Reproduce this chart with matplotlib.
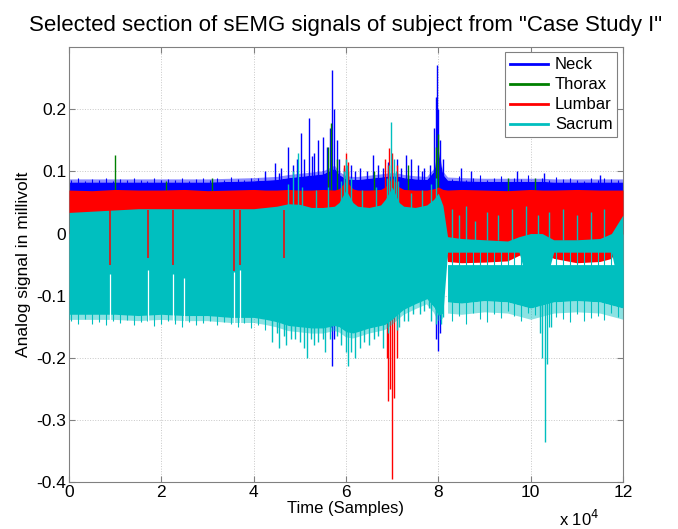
import numpy as np
import matplotlib
matplotlib.use("Agg")
import matplotlib.pyplot as plt
from matplotlib.lines import Line2D

plt.rcParams['font.family'] = ['Liberation Sans', 'DejaVu Sans']

# envelope knots (sample index)
x_knots = [0, 5000, 10000, 15000, 20000, 25000, 30000, 35000, 40000, 42500,
           45000, 47500, 50000, 52500, 55000, 57500, 58500, 60000, 61500, 62500,
           65000, 67500, 68500, 70000, 71500, 72500, 75000, 77500, 79000, 80000,
           81000, 82000, 85000, 90000, 95000, 97500, 100000, 102500, 105000, 110000,
           115000, 117500, 120000]

neck_hi = [0.083, 0.083, 0.083, 0.083, 0.083, 0.083, 0.083, 0.084, 0.085, 0.086,
           0.087, 0.090, 0.092, 0.094, 0.096, 0.105, 0.095, 0.088, 0.087, 0.087,
           0.089, 0.091, 0.092, 0.093, 0.092, 0.090, 0.088, 0.087, 0.100, 0.130,
           0.095, 0.086, 0.085, 0.084, 0.084, 0.084, 0.084, 0.084, 0.083, 0.083,
           0.083, 0.083, 0.083]
thorax_hi = [0.066] * 43
lumbar_hi = [0.070, 0.069, 0.071, 0.070, 0.070, 0.071, 0.069, 0.070, 0.071, 0.070,
             0.070, 0.071, 0.070, 0.070, 0.071, 0.070, 0.072, 0.085, 0.072, 0.070,
             0.070, 0.071, 0.075, 0.090, 0.075, 0.071, 0.070, 0.070, 0.072, 0.075,
             0.071, 0.070, 0.071, 0.070, 0.069, 0.070, 0.071, 0.070, 0.070, 0.071,
             0.070, 0.070, 0.070]
lumbar_lo = [0.0] * 31 + [-0.045, -0.047, -0.046, -0.044, -0.035, -0.030, -0.030,
                          -0.040, -0.047, -0.045, -0.040, 0.0]
sacrum_hi = [0.034, 0.036, 0.038, 0.040, 0.040, 0.040, 0.040, 0.040, 0.040, 0.042,
             0.044, 0.048, 0.047, 0.042, 0.042, 0.044, 0.050, 0.070, 0.050, 0.044,
             0.042, 0.046, 0.055, 0.075, 0.050, 0.044, 0.042, 0.046, 0.055, 0.065,
             0.045, -0.005, -0.008, -0.010, -0.012, -0.005, 0.000, 0.000, -0.010, -0.010,
             -0.008, 0.000, 0.030]
sacrum_lo = [-0.130, -0.130, -0.130, -0.132, -0.130, -0.132, -0.132, -0.135, -0.135, -0.138,
             -0.142, -0.148, -0.150, -0.152, -0.152, -0.148, -0.150, -0.158, -0.160, -0.158,
             -0.152, -0.148, -0.146, -0.138, -0.128, -0.122, -0.113, -0.105, -0.118, -0.132,
             -0.128, -0.030, -0.030, -0.030, -0.030, -0.030, -0.100, -0.100, -0.030, -0.030,
             -0.030, -0.030, -0.120]

# dense lower "forest" of the sacrum trace after sample 82000
forest_x = [82000, 85000, 90000, 95000, 100000, 105000, 110000, 115000, 120000]
forest_hi = [-0.050] * 9
forest_lo = [-0.110, -0.112, -0.108, -0.110, -0.120, -0.110, -0.108, -0.110, -0.120]

# ragged edges, one value every 1500 samples
edge_left_x = np.arange(500, 44000, 1500)
edge_right_x = np.arange(83000, 120000, 1500)
neck_edge_left = [0.086, 0.089, 0.085, 0.088, 0.087, 0.090, 0.085, 0.088, 0.086, 0.089,
                  0.087, 0.085, 0.090, 0.086, 0.088, 0.087, 0.089, 0.085, 0.088, 0.090,
                  0.086, 0.089, 0.087, 0.091, 0.088, 0.086, 0.090, 0.089, 0.092]
neck_edge_right = [0.088, 0.092, 0.086, 0.090, 0.095, 0.087, 0.089, 0.093, 0.086, 0.090,
                   0.088, 0.094, 0.087, 0.089, 0.086, 0.091, 0.088, 0.090, 0.087, 0.085,
                   0.089, 0.086, 0.090, 0.088, 0.087]
sacrum_edge_left = [-0.140, -0.145, -0.138, -0.146, -0.142, -0.148, -0.140, -0.144, -0.139, -0.147,
                    -0.143, -0.141, -0.149, -0.145, -0.140, -0.146, -0.150, -0.142, -0.147, -0.144,
                    -0.141, -0.148, -0.143, -0.146, -0.150, -0.144, -0.152, -0.147, -0.155]
sacrum_edge_right = [-0.140, -0.132, -0.145, -0.128, -0.138, -0.142, -0.130, -0.136, -0.125, -0.133,
                     -0.140, -0.128, -0.131, -0.160, -0.150, -0.135, -0.138, -0.142, -0.130, -0.140,
                     -0.136, -0.132, -0.139, -0.128, -0.134]

# individual spikes (sample, value)
neck_up = [(42500, 0.100), (44600, 0.114), (45500, 0.098), (46000, 0.105), (47400, 0.140),
           (48500, 0.110), (49300, 0.120), (50200, 0.162), (51000, 0.120), (52000, 0.186),
           (52600, 0.125), (53000, 0.130), (54000, 0.150), (55000, 0.156), (55800, 0.140),
           (56500, 0.170), (57000, 0.263), (57400, 0.200), (58000, 0.150), (58500, 0.120),
           (59500, 0.105), (61000, 0.110), (62000, 0.100), (63000, 0.105), (64500, 0.100),
           (65800, 0.127), (67000, 0.110), (68000, 0.105), (69000, 0.115), (71000, 0.120),
           (72000, 0.105), (73000, 0.127), (74000, 0.120), (75500, 0.110), (76500, 0.100),
           (77000, 0.105), (78300, 0.110), (79000, 0.170), (79500, 0.220), (79700, 0.271),
           (80000, 0.200), (80300, 0.150), (81000, 0.120), (85000, 0.105), (87000, 0.100),
           (97000, 0.100), (103000, 0.097), (115000, 0.095)]
neck_down = [(56800, -0.150), (57000, -0.213), (57300, -0.170),
             (79500, -0.170), (80000, -0.189), (80300, -0.160)]
thorax_up = [(10000, 0.127), (21000, 0.085), (31000, 0.090), (56000, 0.140), (56800, 0.178),
             (58000, 0.120), (60500, 0.100), (66000, 0.100), (73500, 0.110), (79500, 0.140),
             (80000, 0.160), (95000, 0.090), (101000, 0.090)]
lumbar_up = [(59500, 0.110), (60000, 0.130), (60500, 0.115), (68500, 0.120), (69000, 0.110),
             (69300, 0.138), (70000, 0.130), (71000, 0.110)]
lumbar_down = [(68800, -0.200), (69200, -0.270), (69600, -0.250), (70000, -0.395),
               (70500, -0.265), (71000, -0.200)]
lumbar_dips = [(8900, -0.050), (17200, -0.040), (22500, -0.050), (35700, -0.060),
               (37000, -0.050), (46500, -0.040)]
sacrum_gaps = [(8900, -0.065), (17200, -0.058), (22500, -0.065), (25000, -0.072),
               (35700, -0.062), (37000, -0.058)]
sacrum_up = [(47500, 0.080), (48500, 0.100), (49500, 0.130), (50500, 0.075), (53500, 0.070),
             (56000, 0.075), (59000, 0.085), (59500, 0.100), (60000, 0.120), (60300, 0.110),
             (61000, 0.090), (63500, 0.070), (66500, 0.075), (68800, 0.090), (69300, 0.110),
             (69700, 0.180), (70300, 0.120), (70800, 0.100), (71200, 0.085), (74000, 0.065),
             (76500, 0.070), (78500, 0.080), (79500, 0.090),
             (83000, 0.040), (84500, 0.030), (86000, 0.045), (88000, 0.020), (90500, 0.035),
             (93000, 0.030), (96000, 0.040), (99000, 0.045), (101500, 0.030), (104000, 0.035),
             (107000, 0.040), (110000, 0.030), (113000, 0.035), (116000, 0.040)]
sacrum_down = [(44000, -0.175), (45000, -0.160), (45500, -0.185), (46500, -0.165), (47000, -0.180),
               (48000, -0.170), (49000, -0.170), (50000, -0.175), (51000, -0.185), (51500, -0.200),
               (52500, -0.170), (53000, -0.180), (54000, -0.175), (55000, -0.170), (55500, -0.190),
               (56500, -0.170), (58000, -0.165), (59000, -0.180), (60000, -0.190), (60500, -0.213),
               (61000, -0.190), (62000, -0.200), (63000, -0.185), (64000, -0.175), (65000, -0.180),
               (66000, -0.170), (67000, -0.165), (68000, -0.185), (69000, -0.160), (71000, -0.155),
               (71500, -0.150), (72500, -0.140), (73500, -0.140), (74500, -0.130), (76000, -0.130),
               (77000, -0.125), (78000, -0.120), (78500, -0.140), (79500, -0.145), (80500, -0.145),
               (81000, -0.135), (102000, -0.160), (102500, -0.200), (103100, -0.336),
               (103600, -0.210), (104500, -0.150)]

labels = ['Neck', 'Thorax', 'Lumbar', 'Sacrum']
colors = ['#0000ff', '#008000', '#ff0000', '#00bfbf']


def spikes(ax, pts, base, color, z, lw=1.0):
    xs = [p[0] for p in pts]
    ys = [p[1] for p in pts]
    ax.vlines(xs, [min(base, y) for y in ys], [max(base, y) for y in ys],
              colors=color, linewidth=lw, zorder=z)


fig = plt.figure(figsize=(6.78, 5.29), dpi=100)
ax = fig.add_axes([0.1018, 0.0888, 0.817, 0.822])

nh = np.array(neck_hi)
sl = np.array(sacrum_lo)
fl = np.array(forest_lo)

# neck
ax.fill_between(x_knots, 0, neck_hi, color=colors[0], linewidth=0, zorder=1)
ax.fill_between(x_knots, nh, nh + 0.005, color=colors[0], alpha=0.45, linewidth=0, zorder=1)
spikes(ax, neck_up, 0.05, colors[0], 1)
spikes(ax, neck_down, -0.1, colors[0], 1)
spikes(ax, list(zip(edge_left_x, neck_edge_left)), 0.05, colors[0], 1, lw=0.8)
spikes(ax, list(zip(edge_right_x, neck_edge_right)), 0.05, colors[0], 1, lw=0.8)
# thorax
ax.fill_between(x_knots, 0, thorax_hi, color=colors[1], linewidth=0, zorder=2)
spikes(ax, thorax_up, 0.05, colors[1], 2)
# lumbar
ax.fill_between(x_knots, lumbar_lo, lumbar_hi, color=colors[2], linewidth=0, zorder=3)
spikes(ax, lumbar_up, 0.05, colors[2], 3)
spikes(ax, lumbar_down, -0.1, colors[2], 3)
# sacrum
ax.fill_between(x_knots, sacrum_lo, sacrum_hi, color=colors[3], linewidth=0, zorder=4)
ax.fill_between(x_knots, sl - 0.009, sl, where=sl < -0.05, color=colors[3], alpha=0.45,
                linewidth=0, zorder=4)
ax.fill_between(forest_x, forest_lo, forest_hi, color=colors[3], linewidth=0, zorder=4)
ax.fill_between(forest_x, fl - 0.018, fl, color=colors[3], alpha=0.45, linewidth=0, zorder=4)
spikes(ax, sacrum_up, -0.01, colors[3], 4)
spikes(ax, sacrum_down, -0.1, colors[3], 4)
spikes(ax, list(zip(edge_left_x, sacrum_edge_left)), -0.1, colors[3], 4, lw=0.8)
spikes(ax, list(zip(edge_right_x, sacrum_edge_right)), -0.02, colors[3], 4, lw=0.8)
# gaps in the sacrum trace where the lumbar trace shows through
spikes(ax, sacrum_gaps, -0.15, 'white', 4.5, lw=0.9)
spikes(ax, lumbar_dips, 0.038, colors[2], 5, lw=1.1)

ax.set_xlim(0, 120000)
ax.set_ylim(-0.4, 0.3)
ax.set_xticks(np.arange(0, 120001, 20000))
ax.set_xticklabels(['0', '2', '4', '6', '8', '10', '12'])
ax.set_yticks([-0.4, -0.3, -0.2, -0.1, 0, 0.1, 0.2])
ax.set_yticklabels(['-0.4', '-0.3', '-0.2', '-0.1', '0', '0.1', '0.2'])
ax.tick_params(direction='in', top=True, right=True, length=4, labelsize=12.5,
               color='#808080', pad=2)
ax.grid(True, linestyle=':', color='#c8c8c8', linewidth=0.7)
ax.set_axisbelow(True)
for s in ax.spines.values():
    s.set_color('#808080')

ax.set_title('Selected section of sEMG signals of subject from "Case Study I"',
             fontsize=16, pad=12)
ax.set_xlabel('Time (Samples)', fontsize=12, labelpad=1)
ax.set_ylabel('Analog signal in millivolt', fontsize=12.5, labelpad=4)
ax.text(0.958, -0.085, r'x 10$^4$', transform=ax.transAxes, ha='right', va='center',
        fontsize=12)

handles = [Line2D([0], [0], color=c, linewidth=2) for c in colors]
leg = ax.legend(handles, labels, loc='upper right', bbox_to_anchor=(0.99, 0.988),
                fontsize=12, handlelength=2.3, labelspacing=0.3, borderaxespad=0,
                handletextpad=0.4, borderpad=0.3, fancybox=False, framealpha=1,
                edgecolor='#808080')
leg.get_frame().set_linewidth(0.8)
leg.set_zorder(10)

fig.savefig('out.png', dpi=100)
